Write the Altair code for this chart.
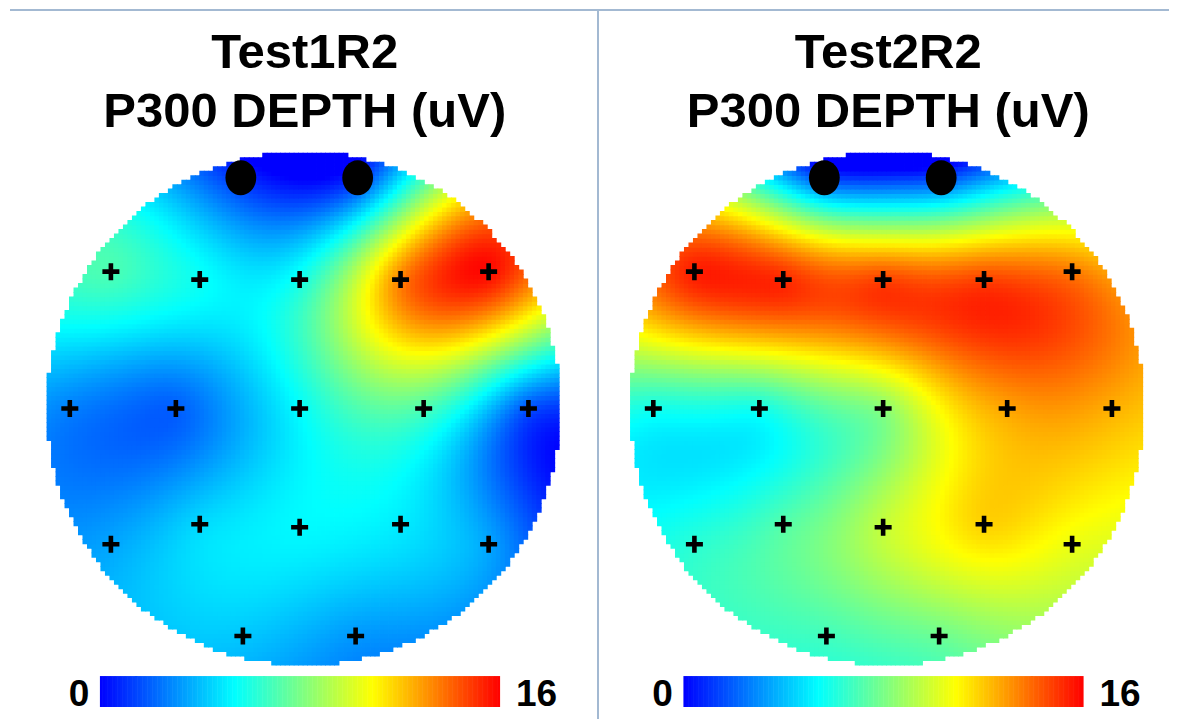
import numpy as np
import pandas as pd
import altair as alt

# ---------------- data ----------------
panel_titles = ["Test1R2", "Test2R2"]
subtitle = "P300 DEPTH (uV)"
electrodes = ["Fp1", "Fp2", "F7", "F3", "Fz", "F4", "F8",
              "T3", "C3", "Cz", "C4", "T4",
              "T5", "P3", "Pz", "P4", "T6", "O1", "O2"]
# electrode positions (head radius = 1)
elec_x = [-0.245, 0.210, -0.751, -0.405, -0.016, 0.377, 0.720,
          -0.911, -0.498, -0.016, 0.467, 0.875,
          -0.751, -0.405, -0.016, 0.377, 0.720, -0.237, 0.202]
elec_y = [0.899, 0.899, 0.533, 0.502, 0.502, 0.502, 0.533,
          0.0, 0.0, 0.0, 0.0, 0.0,
          -0.529, -0.451, -0.463, -0.451, -0.529, -0.887, -0.887]
eye_channels = ["Fp1", "Fp2"]
# P300 depth (uV) per electrode
test1_values = [1.0, 1.0, 7.0, 5.6, 5.8, 13.4, 15.8,
                2.7, 2.0, 5.4, 7.0, 1.7,
                3.5, 4.6, 5.3, 5.0, 3.5, 4.2, 3.2]
test2_values = [1.5, 1.5, 15.4, 15.2, 14.7, 14.7, 13.6,
                5.8, 5.8, 8.3, 12.7, 12.5,
                6.3, 7.2, 9.6, 11.8, 10.5, 6.8, 7.7]
scale_min, scale_max = 0, 16
jet_stops = [0, 2.7, 5.4, 8.15, 10.9, 13.45, 16]
jet_colors = ["#0000FF", "#0080FF", "#00FFFF", "#80FF80", "#FFFF00", "#FF8000", "#FF0000"]

# ---------------- layout (pixels) ----------------
W, H = 1161, 711
R_PX = 257.0
CX, CY = 304 - 8, 409 - 8          # left head centre in plot pixels
OFFSET = 584 / R_PX                # distance between the two heads (head units)
x_dom = [-CX / R_PX, (W - CX) / R_PX]
y_dom = [(CY - H) / R_PX, CY / R_PX]


def u(px):   # plot x pixel -> head units
    return (px - CX) / R_PX


def v(py):   # plot y pixel -> head units
    return (CY - py) / R_PX


# ---------------- thin-plate spline surface from electrode values ----------------
def tps(px, py, vals, gx, gy):
    px, py, vals = np.asarray(px), np.asarray(py), np.asarray(vals, float)
    n = len(px)
    d = np.hypot(px[:, None] - px[None, :], py[:, None] - py[None, :])
    K = np.where(d > 0, d ** 2 * np.log(np.where(d > 0, d, 1)), 0.0)
    A = np.zeros((n + 3, n + 3))
    A[:n, :n] = K
    A[:n, n] = 1
    A[:n, n + 1] = px
    A[:n, n + 2] = py
    A[n, :n] = 1
    A[n + 1, :n] = px
    A[n + 2, :n] = py
    b = np.concatenate([vals, np.zeros(3)])
    sol = np.linalg.solve(A, b)
    w, a = sol[:n], sol[n:]
    dg = np.hypot(gx[:, None] - px[None, :], gy[:, None] - py[None, :])
    Kg = np.where(dg > 0, dg ** 2 * np.log(np.where(dg > 0, dg, 1)), 0.0)
    return Kg @ w + a[0] + a[1] * gx + a[2] * gy


step = 0.0175
g = np.arange(-1 + step / 2, 1, step)
GX, GY = np.meshgrid(g, g)
GX, GY = GX.ravel(), GY.ravel()
inside = GX ** 2 + GY ** 2 <= 1.0
GX, GY = GX[inside], GY[inside]

frames = []
for k, vals in enumerate([test1_values, test2_values]):
    z = np.clip(tps(elec_x, elec_y, vals, GX, GY), scale_min, scale_max)
    frames.append(pd.DataFrame({"x": np.round(GX + k * OFFSET, 4),
                                "y": np.round(GY, 4),
                                "val": np.round(z, 2)}))
field = pd.concat(frames, ignore_index=True)

elec_rows = []
for k in range(2):
    for name, ex, ey in zip(electrodes, elec_x, elec_y):
        elec_rows.append({"x": ex + k * OFFSET, "y": ey,
                          "eye": name in eye_channels})
elec_df = pd.DataFrame(elec_rows)

# colour bar
cb_vals = np.linspace(scale_min, scale_max, 161)
cb_x0, cb_w = u(100 - 8), 400 / R_PX
cb_rows = []
for k in range(2):
    for i in range(len(cb_vals) - 1):
        cb_rows.append({"x": cb_x0 + k * OFFSET + (cb_vals[i] - scale_min) / (scale_max - scale_min) * cb_w,
                        "x2": cb_x0 + k * OFFSET + (cb_vals[i + 1] - scale_min) / (scale_max - scale_min) * cb_w + 0.002,
                        "y": v(677 - 8), "y2": v(708 - 8),
                        "val": (cb_vals[i] + cb_vals[i + 1]) / 2})
cb_df = pd.DataFrame(cb_rows)

lab_rows = []
for k in range(2):
    lab_rows.append({"x": u(79 - 8) + k * OFFSET, "y": v(707 - 8), "t": str(scale_min)})
    lab_rows.append({"x": u(537 - 8) + k * OFFSET, "y": v(707 - 8), "t": str(scale_max)})
lab_df = pd.DataFrame(lab_rows)

title_rows = []
for k, t in enumerate(panel_titles):
    title_rows.append({"x": u(305 - 8) + k * OFFSET, "y": v(68 - 8), "t": t})
    title_rows.append({"x": u(305 - 8) + k * OFFSET, "y": v(127 - 8), "t": subtitle})
title_df = pd.DataFrame(title_rows)

# ---------------- chart ----------------
X = lambda f="x": alt.X(f"{f}:Q", scale=alt.Scale(domain=x_dom, nice=False, zero=False), axis=None)
Y = lambda f="y": alt.Y(f"{f}:Q", scale=alt.Scale(domain=y_dom, nice=False, zero=False), axis=None)
color_scale = alt.Scale(domain=jet_stops, range=jet_colors, clamp=True, interpolate="rgb")

cell_px = step * R_PX + 0.8
heat = alt.Chart(field).mark_square(size=cell_px ** 2, opacity=1, strokeWidth=0).encode(
    x=X(), y=Y(), color=alt.Color("val:Q", scale=color_scale, legend=None))

bar = alt.Chart(cb_df).mark_rect(strokeWidth=0).encode(
    x=X(), x2="x2:Q", y=Y(), y2="y2:Q",
    color=alt.Color("val:Q", scale=color_scale, legend=None))

cross_path = "M -1 -0.27 H -0.27 V -1 H 0.27 V -0.27 H 1 V 0.27 H 0.27 V 1 H -0.27 V 0.27 H -1 Z"
dot_path = "M -0.88 0 A 0.88 1 0 1 0 0.88 0 A 0.88 1 0 1 0 -0.88 0 Z"

crosses = alt.Chart(elec_df).transform_filter("!datum.eye").mark_point(
    shape=cross_path, filled=True, color="black", opacity=1, size=17 ** 2, strokeWidth=0
).encode(x=X(), y=Y())

dots = alt.Chart(elec_df).transform_filter("datum.eye").mark_point(
    shape=dot_path, filled=True, color="black", opacity=1, size=35 ** 2, strokeWidth=0
).encode(x=X(), y=Y())

titles = alt.Chart(title_df).mark_text(
    font="Liberation Sans", fontWeight="bold", fontSize=49, color="black",
    align="center", baseline="alphabetic"
).encode(x=X(), y=Y(), text="t:N")

labels = alt.Chart(lab_df).mark_text(
    font="Liberation Sans", fontWeight="bold", fontSize=37, color="black",
    align="center", baseline="alphabetic"
).encode(x=X(), y=Y(), text="t:N")

one = pd.DataFrame({"a": [0]})
frame_color = "#a3b9d2"
hline = alt.Chart(one).mark_rule(color=frame_color, strokeWidth=2).encode(
    x=alt.value(2), x2=alt.value(W), y=alt.value(2))
vline = alt.Chart(one).mark_rule(color=frame_color, strokeWidth=2).encode(
    x=alt.value(590), y=alt.value(2), y2=alt.value(H))

chart = alt.layer(hline, vline, heat, bar, crosses, dots, titles, labels).properties(
    width=W, height=H, padding=0,
    autosize=alt.AutoSizeParams(type="fit", contains="padding"),
    background="white"
).configure_view(stroke=None)

chart.save("out.html", embed_options={"renderer": "svg", "actions": False})
